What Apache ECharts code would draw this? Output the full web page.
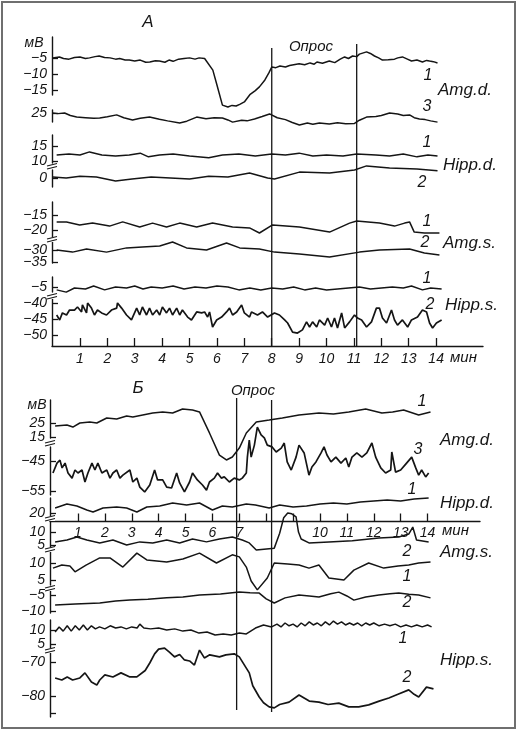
<!DOCTYPE html>
<html><head><meta charset="utf-8">
<script src="https://cdn.jsdelivr.net/npm/echarts@6/dist/echarts.min.js"></script>
<style>html,body{margin:0;padding:0;background:#fff}#c{width:518px;height:731px}</style>
</head><body><div id="c"></div>
<script>
// ---------- DATA (minutes, mV) ----------
const minuteTicks = [1,2,3,4,5,6,7,8,9,10,11,12,13,14];
const minuteLabelsB = [1,2,3,4,5,6,7,10,11,12,13,14];
const probeA = [8.0, 11.1];
const probeB = [6.9, 8.2];

// Panel A
const A_amgD1 = [[0,-4.8],[0.25,-4.5],[0.4,-5.0],[0.6,-5.2],[0.8,-4.7],[1.0,-4.5],[1.2,-5.0],[1.35,-4.8],[1.55,-4.4],[1.7,-4.2],[1.9,-4.7],[2.1,-4.8],[2.3,-5.2],[2.45,-5.0],[2.65,-5.5],[2.8,-5.5],[3.0,-5.8],[3.2,-5.5],[3.4,-6.2],[3.55,-6.1],[3.75,-5.7],[3.9,-5.8],[4.1,-6.2],[4.25,-5.5],[4.4,-5.9],[4.6,-5.2],[4.8,-5.0],[5.0,-4.8],[5.2,-5.2],[5.35,-4.8],[5.55,-5.0],[5.85,-8.7],[6.0,-13.4],[6.2,-19.8],[6.4,-20.4],[6.55,-19.9],[6.7,-20.1],[6.85,-19.5],[7.0,-18.8],[7.2,-16.5],[7.4,-15.2],[7.55,-14.0],[7.75,-11.8],[7.9,-9.5],[8.0,-7.7],[8.15,-7.9],[8.3,-7.4],[8.5,-7.7],[8.65,-7.2],[8.85,-6.9],[9.0,-6.7],[9.2,-7.0],[9.4,-6.4],[9.55,-6.8],[9.65,-6.1],[9.85,-6.5],[10.1,-5.8],[10.3,-6.3],[10.5,-5.2],[10.66,-4.5],[10.8,-5.0],[10.95,-4.2],[11.1,-4.4],[11.2,-3.6],[11.46,-2.9],[11.6,-3.4],[11.75,-4.2],[11.9,-4.8],[12.04,-5.5],[12.25,-5.4],[12.48,-5.2],[12.6,-4.8],[12.77,-4.5],[12.95,-5.2],[13.1,-5.8],[13.3,-5.5],[13.5,-6.1],[13.65,-5.6],[13.76,-5.8],[13.9,-6.0],[14.05,-6.4]];
const A_amgD3 = [[0,25.1],[0.2,24.9],[0.44,25.1],[0.65,24.3],[0.88,23.8],[1.2,23.6],[1.5,23.4],[1.72,23.5],[2.0,23.9],[2.34,24.5],[2.6,23.6],[2.92,22.9],[3.2,23.4],[3.54,23.8],[3.9,23.1],[4.2,22.6],[4.64,21.9],[4.9,22.5],[5.26,23.8],[5.6,23.3],[5.9,23.6],[6.2,23.5],[6.4,22.9],[6.57,22.2],[6.9,22.8],[7.1,22.6],[7.37,23.2],[7.65,24.0],[7.92,24.8],[8.2,23.6],[8.5,23.0],[8.75,22.1],[9.01,21.3],[9.3,21.9],[9.5,21.5],[9.74,21.9],[10.1,21.6],[10.4,22.0],[10.7,21.7],[11.02,21.8],[11.2,22.8],[11.46,23.8],[11.8,24.0],[12.0,24.3],[12.3,25.1],[12.6,24.8],[12.8,24.3],[13.03,24.5],[13.2,23.6],[13.39,23.2],[13.6,23.0],[13.8,22.6],[14.05,22.2]];
const A_hippD1 = [[0.15,12.1],[0.6,12.4],[1.0,12.1],[1.35,13.1],[1.8,12.1],[2.3,11.8],[2.8,12.1],[3.2,12.7],[3.5,11.5],[3.9,12.1],[4.4,12.4],[5.0,11.8],[5.7,11.2],[6.2,12.1],[6.8,12.4],[7.4,11.8],[8.0,12.4],[8.5,12.1],[9.0,12.7],[9.5,11.8],[10.0,12.1],[10.6,11.8],[11.1,12.4],[11.8,12.1],[12.3,11.8],[12.8,12.4],[13.3,11.5],[13.7,12.1],[14.05,11.8]];
const A_hippD2 = [[0,0.3],[0.5,0.0],[1.0,0.6],[1.6,0.3],[2.3,-1.0],[2.9,-0.3],[3.6,0.3],[4.3,0.0],[5.0,-0.3],[5.7,0.6],[6.4,0.3],[7.19,1.6],[7.85,0],[8.1,-0.3],[9.01,1.9],[10.11,1.6],[11.02,2.6],[11.46,3.9],[12.3,3.2],[13.3,2.9],[14.05,2.3]];
const A_amgS1 = [[0.15,-17.3],[0.51,-17.3],[0.99,-18.3],[1.46,-17.7],[2.08,-18.7],[2.56,-17.3],[3.18,-19],[3.65,-17.7],[4.16,-19],[4.64,-17.7],[5.26,-19],[5.84,-17.7],[6.57,-19.0],[7.19,-19.3],[7.55,-21],[8.03,-18.3],[9.01,-19],[10.11,-20.7],[10.84,-17.7],[11.1,-17],[11.93,-17.7],[12.48,-18.7],[12.85,-17.7],[13.03,-17.3],[13.2,-20.7],[13.57,-21],[14.12,-21]];
const A_amgS2 = [[0.15,-30],[0.73,-30.9],[1.24,-29.6],[1.97,-30.9],[2.7,-29.1],[3.28,-28.7],[3.91,-28.3],[4.38,-26.6],[4.89,-29.1],[5.62,-30],[6.35,-27.0],[6.83,-29.1],[7.55,-29.6],[8.1,-30.9],[9.01,-31.7],[10.11,-33.0],[11.2,-30.9],[11.93,-30],[13.03,-29.6],[13.57,-31.3],[14.12,-32.1]];
const A_hippS1 = [[0.15,-5.9],[0.5,-6.6],[0.8,-5.3],[1.2,-5.6],[1.5,-4.7],[1.9,-5.9],[2.3,-5.0],[2.7,-5.3],[3.0,-4.7],[3.3,-5.6],[3.6,-5.0],[4.0,-5.3],[4.4,-4.7],[4.8,-5.6],[5.2,-5.0],[5.6,-5.3],[6.0,-4.7],[6.4,-5.0],[6.8,-5.9],[7.2,-5.3],[7.6,-5.9],[8.0,-5.3],[8.4,-5.6],[8.8,-5.0],[9.2,-5.9],[9.6,-5.3],[10.0,-5.9],[10.4,-5.6],[10.8,-5.3],[11.2,-5.0],[11.6,-5.6],[12.0,-5.3],[12.4,-5.0],[12.8,-5.3],[13.1,-4.7],[13.5,-5.9],[13.8,-5.3],[14.2,-5.6]];
const A_hippS2 = [[0.15,-43.75],[0.26,-45.3],[0.36,-43.1],[0.51,-43.75],[0.62,-42.2],[0.8,-42.2],[0.91,-41.25],[1.06,-42.8],[1.09,-40.6],[1.24,-43.1],[1.28,-40.0],[1.42,-41.6],[1.53,-43.75],[1.64,-42.2],[1.79,-43.1],[1.97,-43.75],[2.15,-42.2],[2.34,-41.6],[2.37,-40.0],[2.52,-41.6],[2.7,-43.75],[2.88,-45.3],[3.07,-41.6],[3.18,-43.75],[3.28,-41.25],[3.43,-43.75],[3.54,-41.6],[3.65,-43.75],[3.8,-42.2],[3.91,-43.75],[4.01,-41.25],[4.16,-43.1],[4.27,-41.6],[4.38,-43.75],[4.53,-41.6],[4.64,-43.75],[4.74,-42.2],[4.93,-44.4],[5.07,-45.3],[5.26,-42.8],[5.44,-43.1],[5.55,-42.8],[5.66,-44.4],[5.73,-42.8],[5.84,-47.5],[5.99,-45.3],[6.17,-44.4],[6.35,-42.8],[6.46,-41.6],[6.57,-43.75],[6.72,-42.8],[6.9,-40.6],[7.0,-43.1],[7.19,-44.4],[7.26,-42.8],[7.48,-43.75],[7.66,-42.8],[7.85,-44.4],[8.1,-43.1],[8.28,-43.75],[8.47,-45.3],[8.58,-46.25],[8.76,-49.1],[8.94,-49.4],[9.12,-48.4],[9.27,-45.9],[9.38,-47.5],[9.49,-45.9],[9.64,-47.5],[9.74,-45.3],[9.93,-46.9],[10.04,-44.7],[10.18,-47.5],[10.29,-44.7],[10.4,-47.8],[10.55,-43.1],[10.66,-47.8],[10.84,-45.9],[11.02,-43.75],[11.13,-44.7],[11.28,-45.3],[11.46,-47.5],[11.64,-45.9],[11.82,-41.6],[11.93,-41.6],[12.04,-44.7],[12.19,-46.25],[12.37,-42.2],[12.48,-45.3],[12.59,-46.9],[12.77,-45.3],[12.96,-47.5],[13.1,-45.3],[13.32,-44.4],[13.5,-42.2],[13.65,-42.8],[13.76,-46.25],[13.87,-47.8],[14.01,-46.25],[14.2,-45.3]];

// Panel Б
const B_amgD1 = [[0.15,22.9],[0.59,23.6],[0.81,22.1],[1.07,25],[1.44,25.7],[1.7,25],[2.07,28.6],[2.44,27.9],[2.81,30],[3.04,29.3],[3.41,30.7],[3.78,32.1],[4.15,32.9],[4.52,32.1],[4.89,35],[5.26,34.3],[5.52,32.9],[5.89,17.9],[6.26,2.1],[6.52,-1.4],[6.74,0.7],[7.0,7.1],[7.26,17.9],[7.63,25.7],[8.11,27.1],[8.6,28.6],[9.22,30.7],[9.96,32.1],[10.5,31.4],[11.07,32.9],[11.7,35],[12.3,32.1],[12.7,32.9],[13.11,34.3],[13.67,30.7],[14.11,32.9]];
const B_amgD3 = [[0.07,-49],[0.22,-45.7],[0.33,-44.7],[0.41,-47.3],[0.52,-45.7],[0.63,-49],[0.78,-50.7],[0.89,-48],[1.0,-49],[1.15,-48],[1.26,-52],[1.37,-49],[1.52,-45.7],[1.63,-48],[1.74,-45.7],[1.89,-49],[2.07,-48],[2.19,-50.7],[2.3,-49],[2.44,-48],[2.56,-50.7],[2.67,-49.7],[2.93,-48],[3.04,-52],[3.19,-50.7],[3.3,-53.7],[3.48,-55.3],[3.67,-53],[3.85,-48],[3.96,-51.3],[4.15,-51.3],[4.3,-53.7],[4.48,-54],[4.67,-49],[4.78,-52.3],[4.96,-55.3],[5.15,-52],[5.26,-49],[5.44,-51.3],[5.63,-53],[5.78,-54.7],[5.89,-52],[6.07,-50.7],[6.19,-49],[6.33,-50.7],[6.44,-50.3],[6.63,-52],[6.81,-50.7],[7.0,-51.3],[7.11,-50.7],[7.26,-49],[7.3,-43.7],[7.37,-38],[7.44,-43.7],[7.56,-39.7],[7.67,-33.7],[7.81,-36.3],[7.93,-37.3],[8.04,-39.7],[8.22,-40.3],[8.37,-42],[8.56,-40.7],[8.67,-39],[8.78,-45.3],[8.93,-48],[9.11,-43.7],[9.22,-39.7],[9.41,-42.3],[9.59,-49.7],[9.7,-47],[9.85,-45.3],[10.04,-42.3],[10.15,-40.3],[10.26,-43],[10.41,-45.3],[10.59,-43.7],[10.78,-45.7],[10.96,-44],[11.07,-47],[11.19,-43.7],[11.37,-42.3],[11.56,-43.7],[11.74,-42.3],[11.93,-39],[12.07,-43.7],[12.26,-47.3],[12.44,-49],[12.63,-48],[12.67,-42],[12.81,-48.7],[13.0,-48],[13.22,-45.7],[13.41,-43.7],[13.56,-47.3],[13.67,-49.7],[13.78,-48],[13.93,-50.3],[14.04,-49]];
const B_hippD1 = [[0.15,22],[0.59,23.6],[0.96,22.8],[1.33,21.2],[1.56,20.4],[1.93,22],[2.44,22.4],[2.81,22],[3.19,20.4],[3.56,22.4],[4.04,22.8],[4.52,24],[5.04,23.2],[5.52,24],[6.0,21.2],[6.37,22.8],[6.74,22.4],[7.26,23.6],[7.6,23.2],[8.11,22],[8.5,23.2],[9.0,22.4],[9.5,22.8],[10.0,23.6],[10.5,24],[11.0,23.6],[11.5,24.4],[12.0,24.8],[12.5,25.2],[13.0,24.8],[13.5,25.6],[14.04,26]];
const B_amgS2 = [[0.15,6.2],[0.59,6.9],[0.96,8.1],[1.33,6.9],[1.81,5.8],[2.3,6.9],[2.81,5.0],[3.3,6.2],[3.78,5.8],[4.3,6.9],[4.78,5.8],[5.26,7.3],[5.78,6.2],[6.26,7.3],[6.74,8.1],[7.11,6.9],[7.37,5.8],[7.63,3.1],[8.3,3.8],[8.5,9.5],[8.65,15.5],[8.8,17.3],[8.95,17.0],[9.11,15.8],[9.2,10],[9.3,7.3],[9.59,5.8],[10.33,6.2],[11.2,6.6],[12.19,7.7],[12.93,8.1],[13.3,9.2],[13.45,11.9],[13.59,6.9],[14.04,6.2]];
const B_amgS1 = [[0.07,8.5],[0.4,9.4],[0.7,9.1],[0.89,7.4],[1.3,9.4],[1.81,11.5],[2.19,11.5],[2.67,8.8],[3.19,12.9],[3.56,10.9],[4.3,10.3],[4.9,11.2],[5.52,12.9],[6.15,10],[6.74,12.4],[7.0,11.8],[7.26,8.8],[7.44,4.7],[7.67,2.1],[8.04,5.6],[8.3,10],[8.8,9.7],[9.22,9.4],[9.59,8.5],[9.96,9.4],[10.33,5.6],[10.89,5.0],[11.26,7.9],[11.81,10],[12.37,8.5],[12.9,9.1],[13.3,9.4],[13.67,10],[14.11,10.3]];
const B_hippS_a = [[0.15,-8.1],[0.9,-7.8],[1.81,-7.5],[2.4,-6.9],[2.93,-6.6],[3.6,-6.3],[4.3,-5.9],[4.9,-5.6],[5.52,-5],[6.3,-4.7],[7.0,-4.1],[7.4,-4.3],[7.74,-4.4],[8.0,-6.2],[8.3,-7.5],[8.7,-5.9],[9.22,-5],[9.6,-5.3],[9.96,-5.6],[10.4,-4.6],[10.7,-4.1],[11.0,-5.3],[11.26,-6.6],[11.7,-5.6],[12.19,-5],[12.6,-4.6],[12.93,-4.4],[13.3,-4.8],[13.67,-5],[14.11,-5.9]];
const B_hippS_b = [[0.15,9.3],[0.3,11.1],[0.45,9.6],[0.6,11.5],[0.75,9.6],[0.9,11.5],[1.05,10],[1.2,11.8],[1.35,10],[1.5,11.5],[1.65,10.4],[1.8,11.1],[2.0,10.4],[2.2,11.5],[2.4,10.7],[2.6,11.1],[2.8,10.4],[3.0,11.1],[3.2,10.7],[3.3,12.1],[3.45,10.7],[3.7,10.4],[4.0,10.7],[4.3,10],[4.6,10.4],[4.9,9.6],[5.2,10],[5.5,8.9],[5.8,9.3],[6.1,8.2],[6.4,8.6],[6.7,8.2],[7.0,8.9],[7.26,8.6],[7.6,10.7],[7.9,11.8],[8.2,11.1],[8.4,12.1],[8.55,11.1],[8.7,12.5],[8.85,11.5],[9.0,12.1],[9.15,11.1],[9.3,12.5],[9.45,11.5],[9.6,12.9],[9.75,11.8],[9.9,12.5],[10.05,11.5],[10.2,12.9],[10.35,11.8],[10.5,13.2],[10.65,12.1],[10.8,12.9],[10.95,11.8],[11.1,12.5],[11.25,11.8],[11.4,12.5],[11.55,11.5],[11.7,12.5],[11.85,11.8],[12.0,12.5],[12.2,11.5],[12.4,12.1],[12.6,11.5],[12.8,12.1],[13.0,11.1],[13.2,11.8],[13.4,11.1],[13.6,11.8],[13.8,11.1],[14.0,11.8],[14.15,11.1]];
const B_hippS2 = [[0.15,-74.7],[0.4,-75.3],[0.6,-74.4],[0.8,-75.3],[1.07,-74.7],[1.26,-73.2],[1.5,-75.9],[1.7,-76.8],[1.81,-75.3],[2.0,-73.8],[2.3,-74.4],[2.6,-73.2],[2.93,-74.4],[3.19,-74.4],[3.5,-72.5],[3.67,-70.3],[3.85,-67.6],[4.0,-66.2],[4.22,-65.9],[4.4,-67.1],[4.59,-68.5],[4.78,-67.8],[4.96,-69.4],[5.15,-69.7],[5.33,-70.9],[5.52,-66.5],[5.7,-68.8],[5.9,-67.9],[6.26,-68.5],[6.5,-67.9],[6.81,-67.6],[7.0,-68.5],[7.26,-71.8],[7.37,-73.2],[7.5,-77],[7.74,-80.3],[7.9,-82],[8.11,-83.2],[8.3,-83.5],[8.5,-82.5],[8.85,-81.8],[9.22,-79.7],[9.6,-81.5],[9.96,-81.8],[10.3,-82.5],[10.7,-82.1],[11.07,-83.2],[11.44,-83.2],[11.81,-82.6],[12.2,-81.5],[12.56,-80.6],[12.9,-79.5],[13.3,-78.2],[13.5,-79.5],[13.67,-80.3],[13.96,-77.4],[14.22,-77.9]];

// ---------- LAYOUT ----------
const FONT = 'Liberation Sans';
const INK = '#151515';
const panelA = {left:52, width:431, xmin:-0.02, xmax:15.71};
const panelB = {left:50, width:430, xmin:-0.04, xmax:15.95};

// labels: lists of label groups; each group drawn by its own axis so close labels are never dropped
const segs = [
  {p:panelA, top:37, h:58, ymin:-16.59, ymax:1.83, ticks:[-5,-10,-15], labels:[[-5,-15],[-10]], data:A_amgD1},
  {p:panelA, top:110, h:12, ymin:22.24, ymax:26.05, ticks:[25], labels:[[25]], data:A_amgD3},
  {p:panelA, top:135, h:28, ymin:9.52, ymax:18.55, ticks:[15,10], labels:[[15],[10]], data:A_hippD1},
  {p:panelA, top:170, h:17, ymin:-2.9, ymax:2.58, ticks:[0], labels:[[0]], data:A_hippD2},
  {p:panelA, top:202, h:35, ymin:-22.33, ymax:-10.67, ticks:[-15,-20], labels:[[-15],[-20]], data:A_amgS1},
  {p:panelA, top:241, h:22, ymin:-35.53, ymax:-26.17, ticks:[-30,-35], labels:[[-30],[-35]], data:A_amgS2},
  {p:panelA, top:277, h:15, ymin:-6.56, ymax:-1.875, ticks:[-5], labels:[[-5]], data:A_hippS1},
  {p:panelA, top:298, h:48, ymin:-53.44, ymax:-38.44, ticks:[-40,-45,-50], labels:[[-40,-50],[-45]], data:A_hippS2, bold:true, xaxis:'bottom'},
  {p:panelB, top:400, h:38, ymin:14.29, ymax:41.43, ticks:[25,15], labels:[[25],[15]], data:B_amgD1},
  {p:panelB, top:447, h:48, ymin:-56.33, ymax:-40.33, ticks:[-45,-55], labels:[[-45],[-55]], data:B_amgD3, bold:true},
  {p:panelB, top:498, h:19, ymin:18.4, ymax:26, ticks:[20], labels:[[20]], data:B_hippD1},
  {p:panelB, top:521.5, h:26.5, ymin:3.85, ymax:14.04, ticks:[10,5], labels:[[10],[5]], data:B_amgS2, xaxis:'top'},
  {p:panelB, top:551, h:34, ymin:3.53, ymax:13.53, ticks:[10,5], labels:[[10],[5]], data:B_amgS1},
  {p:panelB, top:590, h:23, ymin:-10.63, ymax:-3.44, ticks:[-5,-10], labels:[[-5],[-10]], data:B_hippS_a},
  {p:panelB, top:620, h:28, ymin:3.57, ymax:13.57, ticks:[10,5], labels:[[10],[5]], data:B_hippS_b},
  {p:panelB, top:652, h:65, ymin:-86.18, ymax:-67.06, ticks:[-70,-80,-85], labels:[[-70],[-80]], data:B_hippS2, bold:true}
];
const overlays = [
  {p:panelA, top:48, h:298, t:probeA[0]},
  {p:panelA, top:44, h:302, t:probeA[1]},
  {p:panelB, top:398, h:312, t:probeB[0]},
  {p:panelB, top:400, h:312, t:probeB[1]}
];

const labelFont = {color:INK, fontFamily:FONT, fontStyle:'italic', fontSize:14};
const fmt = v => String(v).replace('-', '\u2212');
const grid=[], xAxis=[], yAxis=[], series=[];

segs.forEach((s,i)=>{
  grid.push({left:s.p.left, width:s.p.width, top:s.top, height:s.h, containLabel:false});
  const xa = {gridIndex:i, type:'value', min:s.p.xmin, max:s.p.xmax, show:false};
  if (s.xaxis){
    const isTop = s.xaxis==='top';
    Object.assign(xa, {
      show:true, position:s.xaxis,
      axisLine:{show:true, onZero:false, lineStyle:{color:INK, width:1.4}},
      axisTick:{show:true, inside:!isTop, length:8, customValues:minuteTicks, lineStyle:{color:INK, width:1.3}},
      axisLabel:Object.assign({show:true, inside:isTop, margin:isTop?5:6, hideOverlap:false,
        customValues:isTop?minuteLabelsB:minuteTicks}, labelFont),
      splitLine:{show:false}
    });
  }
  xAxis.push(xa);
  const yIdx = yAxis.length;
  s.labels.forEach((grp,g)=>{
    yAxis.push({
      gridIndex:i, type:'value', min:s.ymin, max:s.ymax, position:'left', offset:0,
      axisLine:{show:g===0, onZero:false, lineStyle:{color:INK, width:1.4}},
      axisTick:{show:g===0, inside:true, length:6, customValues:s.ticks, lineStyle:{color:INK, width:1.3}},
      axisLabel:Object.assign({show:true, margin:5, hideOverlap:false, customValues:grp, formatter:fmt}, labelFont),
      splitLine:{show:false}
    });
  });
  series.push({type:'line', xAxisIndex:i, yAxisIndex:yIdx, data:s.data, showSymbol:false, symbol:'none',
    clip:false, smooth:false, lineStyle:{color:INK, width:s.bold?1.7:1.5}, silent:true, z:3});
});

overlays.forEach((o,k)=>{
  const i = segs.length + k;
  grid.push({left:o.p.left, width:o.p.width, top:o.top, height:o.h});
  xAxis.push({gridIndex:i, type:'value', min:o.p.xmin, max:o.p.xmax, show:false});
  const yIdx = yAxis.length;
  yAxis.push({gridIndex:i, type:'value', min:0, max:1, show:false});
  series.push({type:'line', xAxisIndex:i, yAxisIndex:yIdx, data:[[o.t,0],[o.t,1]], showSymbol:false, symbol:'none',
    clip:false, lineStyle:{color:INK, width:1.3}, silent:true, z:2});
});

// text annotations
const texts = [
  ['А',148,22,17,'center'],['мВ',34,43,14,'center'],['Опрос',311,47,15,'center'],
  ['1',428,76,16,'center'],['Amg.d.',438,90,17,'left'],['3',427,107,16,'center'],
  ['1',427,143,16,'center'],['Hipp.d.',443,165,17,'left'],['2',422,183,16,'center'],
  ['1',427,222,16,'center'],['2',425,243,16,'center'],['Amg.s.',443,243,17,'left'],
  ['1',427,279,16,'center'],['2',430,305,16,'center'],['Hipp.s.',445,305,17,'left'],
  ['мин',450,358,15,'left'],
  ['Б',138,388,17,'center'],['Опрос',253,391,15,'center'],['мВ',37,405,14,'center'],
  ['1',422,402,16,'center'],['Amg.d.',440,440,17,'left'],['3',418,450,16,'center'],
  ['1',412,490,16,'center'],['Hipp.d.',440,503,17,'left'],
  ['мин',442,531,15,'left'],
  ['2',407,552,16,'center'],['Amg.s.',440,552,17,'left'],
  ['1',407,577,16,'center'],['2',407,603,16,'center'],['1',403,639,16,'center'],
  ['Hipp.s.',440,660,17,'left'],['2',407,678,16,'center']
];
const graphic = texts.map(([t,x,y,sz,al])=>({type:'text', x, y, silent:true,
  style:{text:t, font:`italic ${sz}px "${FONT}"`, fill:INK, textAlign:al, textVerticalAlign:'middle'}}));

// axis break marks
const breaks = [[52,166],[52,239],[52,296],[50,443],[50,518],[50,549],[50,588],[50,650]];
breaks.forEach(([x,y])=>{
  graphic.push({type:'rect', shape:{x:x-4,y:y-2,width:9,height:5}, style:{fill:'#fff'}, silent:true, z:10});
  graphic.push({type:'line', shape:{x1:x-5,y1:y,x2:x+5,y2:y-2.5}, style:{stroke:INK,lineWidth:1.1}, silent:true, z:11});
  graphic.push({type:'line', shape:{x1:x-5,y1:y+3,x2:x+5,y2:y+0.5}, style:{stroke:INK,lineWidth:1.1}, silent:true, z:11});
});
graphic.push({type:'rect', shape:{x:2,y:2,width:513,height:726}, style:{fill:null, stroke:'#6f6f6f', lineWidth:2}, silent:true});

const chart = echarts.init(document.getElementById('c'), null, {renderer:'canvas'});
chart.setOption({animation:false, backgroundColor:'#ffffff', grid, xAxis, yAxis, series, graphic});
</script></body></html>
